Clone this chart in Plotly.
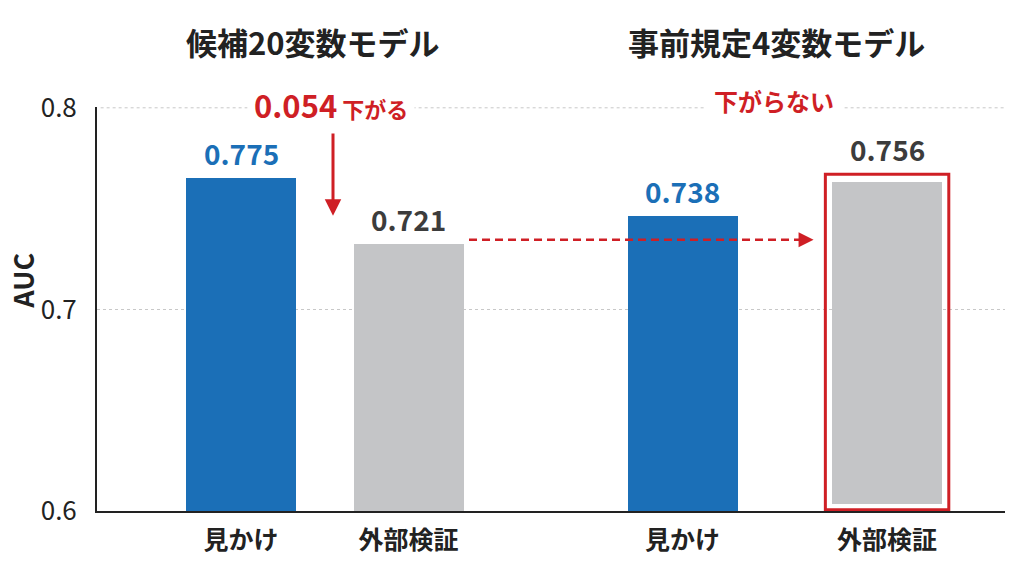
import plotly.graph_objects as go

# data
groups = ["候補20変数モデル", "事前規定4変数モデル"]
categories = ["見かけ", "外部検証", "見かけ", "外部検証"]
bar_heights = [0.765, 0.7325, 0.7465, 0.763]   # bar tops as drawn
value_labels = ["0.775", "0.721", "0.738", "0.756"]
drop_label = "0.054"
drop_text = "下がる"
no_drop_text = "下がらない"
y_ticks = [0.6, 0.7, 0.8]
y_ticktext = ["0.6", "0.7", "0.8"]

# layout helpers
FONT = "Noto Sans CJK JP"
BLUE = "#1b6fb7"
GRAY = "#c4c5c7"
RED = "#cf1f25"
DARK = "#222222"
x_pos = [0, 1, 2.636, 3.857]
bar_w = 0.657
bar_colors = [BLUE, GRAY, BLUE, GRAY]
label_colors = [BLUE, "#3c3c3c", BLUE, "#3c3c3c"]
highlight = 3
inset = 0.0035
bases = [0.6 + (inset if i == highlight else 0) for i in range(4)]

fig = go.Figure()
fig.add_trace(go.Bar(
    x=x_pos, y=[h - b for h, b in zip(bar_heights, bases)], base=bases,
    width=bar_w, marker=dict(color=bar_colors, line=dict(width=0)),
    hoverinfo="skip", showlegend=False,
))

# dashed "no drop" line
arrow_y = 0.7345
fig.add_trace(go.Scatter(
    x=[1.361, 3.36], y=[arrow_y, arrow_y], mode="lines",
    line=dict(color=RED, width=2.5, dash="8px,5px"),
    hoverinfo="skip", showlegend=False,
))

ann = []
# value labels
for i in range(4):
    ann.append(dict(
        x=x_pos[i], y=bar_heights[i], text=f"<b>{value_labels[i]}</b>",
        showarrow=False, yanchor="middle", yshift=33 if i == highlight else 25,
        font=dict(family=FONT, size=28, color=label_colors[i]),
    ))
# group titles
for gx, g in zip([0.43, 3.194], groups):
    ann.append(dict(
        x=gx, xref="x", y=1.161, yref="paper", text=f"<b>{g}</b>",
        showarrow=False, yanchor="middle",
        font=dict(family=FONT, size=31, color=DARK),
    ))
# drop text
ann.append(dict(
    x=0.537, y=0.8, yanchor="middle", yshift=3, showarrow=False, bgcolor="white",
    borderpad=6,
    text=f"<b><span style='font-size:31px'>{drop_label}</span> {drop_text}</b>",
    font=dict(family=FONT, size=22, color=RED),
))
ann.append(dict(
    x=3.182, y=0.8, yanchor="middle", yshift=7, showarrow=False, bgcolor="white",
    borderpad=8, text=f"<b>{no_drop_text}</b>",
    font=dict(family=FONT, size=24, color=RED),
))
# down arrow
ann.append(dict(
    x=0.549, y=0.7465, ax=0.549, ay=0.788, axref="x", ayref="y", text="",
    showarrow=True, arrowhead=2, arrowsize=1.1, arrowwidth=3, arrowcolor=RED,
    standoff=0,
))
# head of dashed arrow
ann.append(dict(
    x=3.418, y=arrow_y, ax=3.34, ay=arrow_y, axref="x", ayref="y", text="",
    showarrow=True, arrowhead=2, arrowsize=1.2, arrowwidth=2.5, arrowcolor=RED,
    standoff=0,
))
# y title
ann.append(dict(
    x=-0.0815, xref="paper", y=0.57, yref="paper", text="<b>AUC</b>",
    textangle=-90, showarrow=False, xanchor="center", yanchor="middle",
    font=dict(family=FONT, size=27, color=DARK),
))

box_pad = 0.04
fig.add_shape(
    type="rect", xref="x", yref="y",
    x0=x_pos[highlight] - bar_w / 2 - box_pad, x1=x_pos[highlight] + bar_w / 2 + box_pad,
    y0=0.6006, y1=bar_heights[highlight] + 0.004,
    line=dict(color=RED, width=3), fillcolor="rgba(0,0,0,0)",
)
# top gridline (plotly drops the one on the range edge)
fig.add_shape(
    type="line", xref="paper", yref="y", x0=0.004, x1=1, y0=y_ticks[-1], y1=y_ticks[-1],
    line=dict(color="#c8c8c8", width=1, dash="dot"), layer="below",
)

fig.update_layout(
    width=1024, height=576,
    margin=dict(l=97, r=19, t=107, b=65),
    paper_bgcolor="white", plot_bgcolor="white",
    font=dict(family=FONT, color=DARK),
    annotations=ann, bargap=0,
)
fig.update_xaxes(
    range=[-0.86, 4.561], tickvals=x_pos, ticktext=[f"<b>{c}</b>" for c in categories],
    tickfont=dict(family=FONT, size=25, color=DARK), ticks="",
    showline=True, linecolor=DARK, linewidth=2, showgrid=False, zeroline=False,
    ticklabelstandoff=6, fixedrange=True,
)
fig.update_yaxes(
    range=[0.6, 0.8004], tickvals=y_ticks, ticktext=y_ticktext,
    tickfont=dict(family=FONT, size=26, color=DARK), ticks="",
    showline=True, linecolor=DARK, linewidth=2,
    showgrid=True, gridcolor="#c8c8c8", griddash="dot", gridwidth=1,
    zeroline=False, ticklabelstandoff=13,
)

# drop the browser's default 8px body margin so the figure fills the window
fig.write_html("out.html", config={"displayModeBar": False},
               post_script="document.body.style.margin='0';")
